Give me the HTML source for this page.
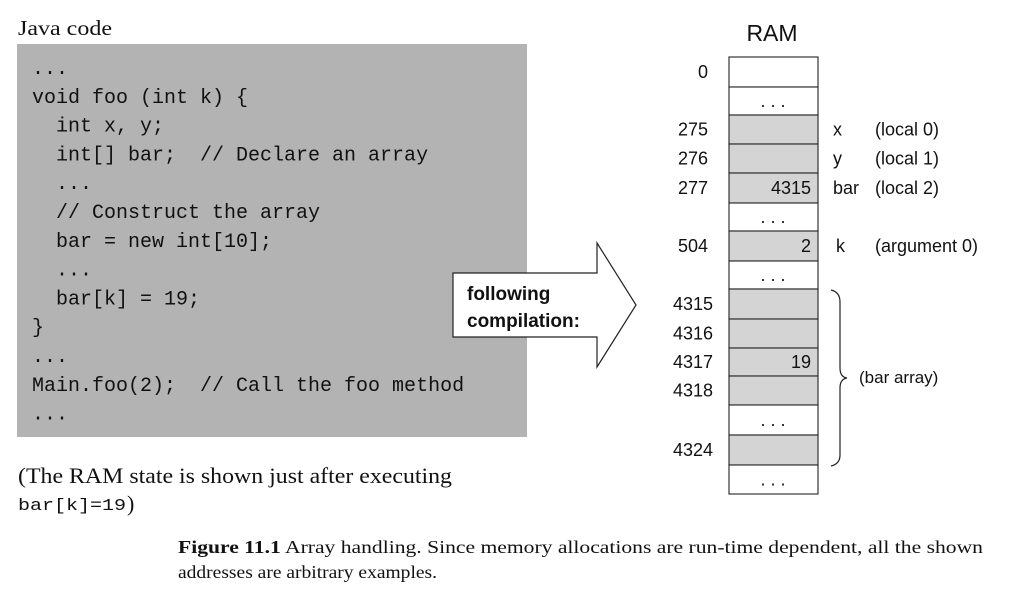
<!DOCTYPE html>
<html><head><meta charset="utf-8"><style>
html,body{margin:0;padding:0;background:#fff;}
svg{display:block}
.serif{font-family:"Liberation Serif",serif;fill:#111}
.mono{font-family:"Liberation Mono",monospace;fill:#111}
.sans{font-family:"Liberation Sans",sans-serif;fill:#111}
</style></head><body>
<svg width="1022" height="601" viewBox="0 0 1022 601">
<text class="serif" x="18" y="35" font-size="21" textLength="94" lengthAdjust="spacingAndGlyphs">Java code</text>
<rect x="17" y="44" width="510" height="393" fill="#b3b3b3"/>
<g id="code" class="mono" font-size="20"></g>
<polygon points="453,273 597,273 597,243 636,305 597,367 597,337 453,337" fill="#fff" stroke="#222" stroke-width="1.2"/>
<text class="sans" x="467" y="300" font-size="19" font-weight="bold">following</text>
<text class="sans" x="467" y="327" font-size="19" font-weight="bold">compilation:</text>
<text class="sans" x="772" y="41" font-size="23" text-anchor="middle">RAM</text>
<g id="ram"></g>
<path d="M831,290 Q840,292 840,302 L840,368 Q840,377 847,378 Q840,379 840,388 L840,455 Q840,464 831,466" fill="none" stroke="#222" stroke-width="1.2"/>
<text class="sans" x="859" y="383" font-size="17">(bar array)</text>
<text class="serif" x="18" y="483" font-size="22" textLength="434" lengthAdjust="spacingAndGlyphs">(The RAM state is shown just after executing</text>
<text class="mono" x="18" y="510" font-size="17" textLength="108" lengthAdjust="spacingAndGlyphs">bar[k]=19</text>
<text class="serif" x="127" y="511" font-size="22">)</text>
<text class="serif" x="178" y="553" font-size="18" textLength="805" lengthAdjust="spacingAndGlyphs"><tspan font-weight="bold">Figure 11.1</tspan>    Array handling. Since memory allocations are run-time dependent, all the shown</text>
<text class="serif" x="178" y="578" font-size="18" textLength="259" lengthAdjust="spacingAndGlyphs">addresses are arbitrary examples.</text>
</svg>
<script>
const codeLines = ["...","void foo (int k) {","  int x, y;","  int[] bar;  // Declare an array","  ...","  // Construct the array","  bar = new int[10];","  ...","  bar[k] = 19;","}","...","Main.foo(2);  // Call the foo method","..."];
const addrs = ["0","","275","276","277","","504","","4315","4316","4317","4318","","4324",""];
const vals = ["","...","","","4315","...","2","...","","","19","","...","","..."];
const shaded = [0,0,1,1,1,0,1,0,1,1,1,1,0,1,0];
const names = ["","","x","y","bar","","k","","","","","","","",""];
const notes = ["","","(local 0)","(local 1)","(local 2)","","(argument 0)","","","","","","","",""];
const NS="http://www.w3.org/2000/svg";
const cg=document.getElementById('code');
codeLines.forEach((l,i)=>{
  const t=document.createElementNS(NS,'text');
  
  
  t.setAttribute('x',32);t.setAttribute('y',74+i*28.8);
  t.style.whiteSpace='pre';
  t.textContent=l;cg.appendChild(t);
});
const rg=document.getElementById('ram');
const bounds=[57,87,115,144,173,203,231,261,289,319,348,376,405,435,465,494];
addrs.forEach((a,i)=>{
  const y0=bounds[i],y1=bounds[i+1],cy=(y0+y1)/2;
  const r=document.createElementNS(NS,'rect');
  
  
  r.setAttribute('x',729);r.setAttribute('y',y0);r.setAttribute('width',89);r.setAttribute('height',y1-y0);
  r.setAttribute('fill',shaded[i]?'#d4d4d4':'#fff');r.setAttribute('stroke','#222');r.setAttribute('stroke-width','1.1');
  rg.appendChild(r);
  function txt(s,x,anchor,name){
    if(!s)return;
    const t=document.createElementNS(NS,'text');
    
    
    t.setAttribute('class','sans');t.setAttribute('font-size','18');
    t.setAttribute('x',x);t.setAttribute('y',cy+6);t.setAttribute('text-anchor',anchor);
    t.textContent=s;rg.appendChild(t);
  }
  txt(a,a.length>3?713:708,'end','ram-address');
  if(vals[i]==='...') txt('. . .',773,'middle','ram-ellipsis'); else txt(vals[i],811,'end','ram-value');
  txt(names[i],names[i]==='k'?836:833,'start','variable-name');
  txt(notes[i],875,'start','variable-note');
});
</script>
</body></html>
